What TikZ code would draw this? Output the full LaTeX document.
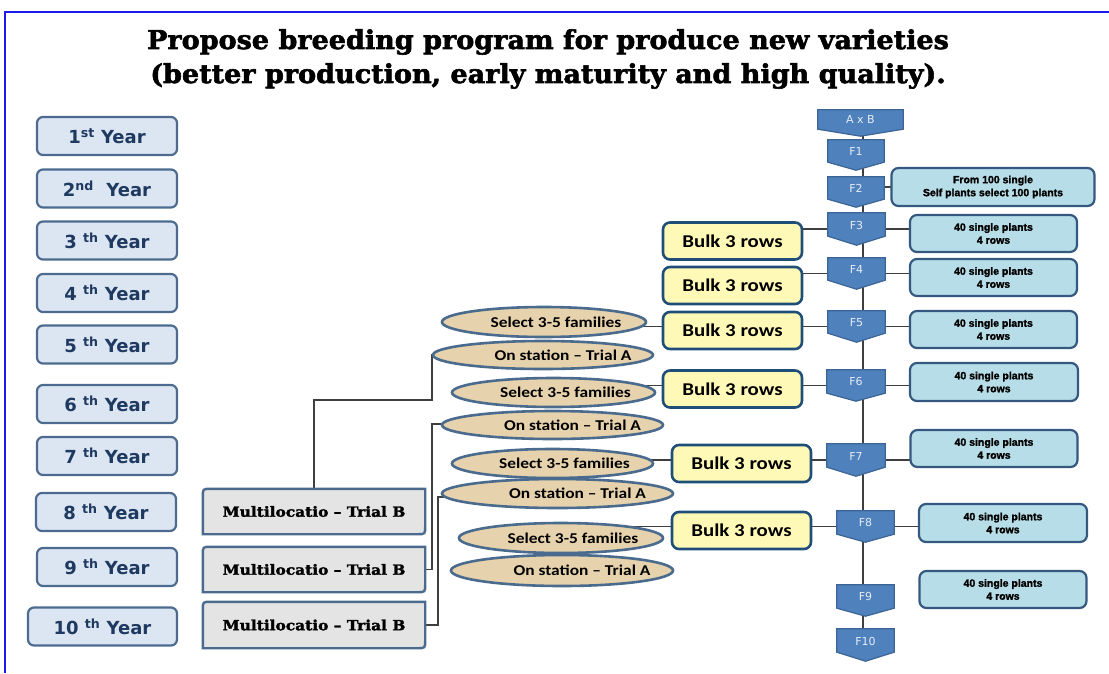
\documentclass[tikz,border=0pt]{standalone}
\usepackage{fontspec}
\setmainfont{DejaVu Sans}
\newfontfamily\titlefont{DejaVu Serif}[FakeBold=2.2,FakeStretch=1.04]
\newfontfamily\mfont{DejaVu Serif}[FakeBold=2,FakeStretch=1.1]
\newfontfamily\calfont{Carlito}[FakeStretch=1.16]
\newfontfamily\condfont{Liberation Sans}[FakeBold=1.6]
\usetikzlibrary{shapes.geometric,backgrounds}
\definecolor{yearfill}{HTML}{DCE6F2}
\definecolor{yearline}{HTML}{4D6B8F}
\definecolor{yeartext}{HTML}{1F3A60}
\definecolor{ffill}{HTML}{4F81BD}
\definecolor{fline}{HTML}{3B6596}
\definecolor{ftextcol}{HTML}{E6ECF5}
\definecolor{infofill}{HTML}{B7DEE8}
\definecolor{infoline}{HTML}{34587F}
\definecolor{bulkfill}{HTML}{FFF9B8}
\definecolor{bulkline}{HTML}{1F4E79}
\definecolor{ellfill}{HTML}{E6D2AC}
\definecolor{ellline}{HTML}{4A6B8E}
\definecolor{mfill}{HTML}{E4E4E4}
\definecolor{conncol}{HTML}{3F3F3F}
\definecolor{framecol}{HTML}{1A1AF0}
\begin{document}
\begin{tikzpicture}[x=1pt,y=-1pt,
  yearbox/.style={draw=yearline, fill=yearfill, line width=2.2pt, rounded corners=6pt, minimum width=140pt, minimum height=38pt, inner sep=0pt, font=\fontsize{18}{20}\selectfont\bfseries, text=yeartext},
  bulkbox/.style={draw=bulkline, fill=bulkfill, line width=2.6pt, rounded corners=7pt, minimum width=139pt, minimum height=37pt, inner sep=0pt, font=\calfont\bfseries\fontsize{18}{20}\selectfont},
  infobox/.style={draw=infoline, fill=infofill, line width=2.2pt, rounded corners=7pt, minimum width=167pt, minimum height=37pt, inner sep=0pt, align=center, font=\condfont\bfseries\fontsize{10.5}{13}\selectfont},
  famell/.style={ellipse, draw=ellline, fill=ellfill, line width=2.6pt, inner sep=0pt},
  selt/.style={font=\calfont\bfseries\fontsize{15}{17}\selectfont, xshift=12pt},
  stat/.style={font=\calfont\bfseries\fontsize{15}{17}\selectfont, xshift=20pt},
  fnode/.style={inner sep=0pt},
  ftext/.style={font=\fontsize{11}{12}\selectfont, text=ftextcol, yshift=4pt},
  fshape/.style={fill=ffill, draw=fline, line width=1.2pt, line join=miter},
  mnode/.style={minimum width=222pt, minimum height=45pt, inner sep=0pt, font=\mfont\bfseries\fontsize{14}{16}\selectfont},
  mshape/.style={fill=mfill, draw=ellline, line width=2.4pt},
  conn/.style={draw=conncol, line width=1.2pt},
]
\useasboundingbox (0,0) rectangle (1109,673);
\draw[framecol, line width=2pt] (5,673) -- (5,12) -- (1109,12);

% title
\node[font=\titlefont\bfseries\fontsize{26}{34}\selectfont, align=center] (title) at (548,59)
  {Propose breeding program for produce new varieties\\(better production, early maturity and high quality).};

% year boxes
\node[yearbox] (Y1) at (107,136) {1\textsuperscript{st} Year};
\node[yearbox] (Y2) at (107,188.5) {2\textsuperscript{nd}\ \ Year};
\node[yearbox] (Y3) at (107,240.5) {3 \textsuperscript{th} Year};
\node[yearbox] (Y4) at (107,293) {4 \textsuperscript{th} Year};
\node[yearbox] (Y5) at (107,344.5) {5 \textsuperscript{th} Year};
\node[yearbox] (Y6) at (107,404) {6 \textsuperscript{th} Year};
\node[yearbox] (Y7) at (107,456) {7 \textsuperscript{th} Year};
\node[yearbox] (Y8) at (106,512) {8 \textsuperscript{th} Year};
\node[yearbox] (Y9) at (107,567) {9 \textsuperscript{th} Year};
\node[yearbox, minimum width=149pt] (Y10) at (102.5,626.5) {10 \textsuperscript{th} Year};

% F nodes
\node[fnode, minimum width=85pt, minimum height=26pt, label={[ftext]center:A x B}] (AB) at (860.5,123) {};
\node[fnode, minimum width=56pt, minimum height=30pt, label={[ftext]center:F1}] (F1) at (856,155) {};
\node[fnode, minimum width=56pt, minimum height=30pt, label={[ftext]center:F2}] (F2) at (856,192) {};
\node[fnode, minimum width=57pt, minimum height=32pt, label={[ftext]center:F3}] (F3) at (856.5,229) {};
\node[fnode, minimum width=57pt, minimum height=31pt, label={[ftext]center:F4}] (F4) at (856.5,273.5) {};
\node[fnode, minimum width=57pt, minimum height=31pt, label={[ftext]center:F5}] (F5) at (856.5,326.5) {};
\node[fnode, minimum width=58pt, minimum height=31pt, label={[ftext]center:F6}] (F6) at (856,385.5) {};
\node[fnode, minimum width=58pt, minimum height=32pt, label={[ftext]center:F7}] (F7) at (856,460) {};
\node[fnode, minimum width=57pt, minimum height=31pt, label={[ftext]center:F8}] (F8) at (865.5,526.5) {};
\node[fnode, minimum width=57pt, minimum height=31pt, label={[ftext]center:F9}] (F9) at (865.5,600.5) {};
\node[fnode, minimum width=57pt, minimum height=32pt, label={[ftext]center:F10}] (F10) at (865.5,645) {};
\coordinate (xl) at (863,0);

% info boxes
\node[infobox, minimum width=203pt, minimum height=38pt] (I2) at (993,187) {From 100 single\\Self plants select 100 plants};
\node[infobox] (I3) at (993.5,233.5) {40 single plants\\4 rows};
\node[infobox] (I4) at (993.5,277.5) {40 single plants\\4 rows};
\node[infobox] (I5) at (993.5,329.5) {40 single plants\\4 rows};
\node[infobox, minimum width=168pt, minimum height=38pt] (I6) at (994,382) {40 single plants\\4 rows};
\node[infobox] (I7) at (994,448.5) {40 single plants\\4 rows};
\node[infobox, minimum width=168pt, minimum height=38pt] (I8) at (1003,523) {40 single plants\\4 rows};
\node[infobox] (I9) at (1003,589.5) {40 single plants\\4 rows};

% bulk boxes
\node[bulkbox] (B3) at (732.5,241) {Bulk 3 rows};
\node[bulkbox] (B4) at (732.5,285.5) {Bulk 3 rows};
\node[bulkbox] (B5) at (732.5,330.5) {Bulk 3 rows};
\node[bulkbox] (B6) at (732.5,389) {Bulk 3 rows};
\node[bulkbox] (B7) at (741.5,463.5) {Bulk 3 rows};
\node[bulkbox] (B8) at (741.5,530.5) {Bulk 3 rows};

% ellipses
\node[famell, minimum width=204pt, minimum height=30pt, label={[selt]center:Select 3-5 families}] (S5) at (544,322) {};
\node[famell, minimum width=220pt, minimum height=28pt, label={[stat]center:On station – Trial A}] (A5) at (543,355) {};
\node[famell, minimum width=203pt, minimum height=29pt, label={[selt]center:Select 3-5 families}] (S6) at (553.5,392.5) {};
\node[famell, minimum width=221pt, minimum height=28pt, label={[stat]center:On station – Trial A}] (A6) at (552.5,425) {};
\node[famell, minimum width=201pt, minimum height=29pt, label={[selt]center:Select 3-5 families}] (S7) at (552.5,463.5) {};
\node[famell, minimum width=231pt, minimum height=29pt, label={[stat]center:On station – Trial A}] (A7) at (557.5,493.5) {};
\node[famell, minimum width=204pt, minimum height=30pt, label={[selt]center:Select 3-5 families}] (S8) at (561,538) {};
\node[famell, minimum width=222pt, minimum height=31pt, label={[stat]center:On station – Trial A}] (A8) at (562,570.5) {};

% multilocation boxes
\node[mnode] (M1) at (314,511.5) {Multilocatio – Trial B};
\node[mnode] (M2) at (314,569.5) {Multilocatio – Trial B};
\node[mnode, minimum height=46pt] (M3) at (314,625) {Multilocatio – Trial B};
\coordinate (c1) at (432,400);
\coordinate (c2) at (432,424);
\coordinate (c3) at (438,497);

\begin{scope}[on background layer]
  \draw[conn] (AB.center -| xl) -- (F10.center -| xl);
  \draw[conn] (F2.center |- I2.center) -- (I2.center);
  \foreach \k in {3,...,8} {
    \draw[conn] (B\k.center |- F\k.center) -- (I\k.center |- F\k.center);
  }
  \foreach \k in {5,...,8} {
    \draw[conn] (S\k.center |- F\k.center) -- (B\k.center |- F\k.center);
  }
  \draw[conn] (M1.north) |- (c1) |- (A5.center);
  \draw[conn] (M2.east) -| (c2) -- (c2 -| A6.center);
  \draw[conn] (M3.east) -| (c3) -- (c3 -| A7.center);
  \foreach \n/\d in {AB/7,F1/8,F2/8,F3/9,F4/9,F5/9,F6/8,F7/9,F8/8,F9/8,F10/9} {
    \draw[fshape] (\n.north west) -- (\n.north east) -- ([yshift=\d pt]\n.south east) -- (\n.south) -- ([yshift=\d pt]\n.south west) -- cycle;
  }
  \foreach \m in {M1,M2,M3} {
    \draw[mshape] (\m.south west) -- ([yshift=-8pt]\m.north west) .. controls (\m.north west) .. ([xshift=8pt]\m.north west) -- (\m.north east) -- ([yshift=8pt]\m.south east) .. controls (\m.south east) .. ([xshift=-8pt]\m.south east) -- cycle;
  }
\end{scope}
\end{tikzpicture}
\end{document}
